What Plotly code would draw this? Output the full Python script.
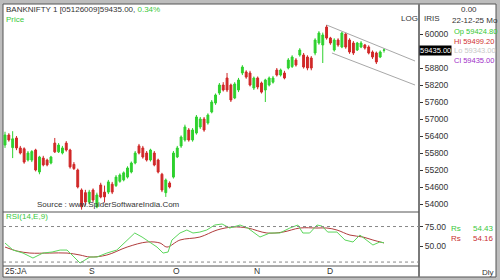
import plotly.graph_objects as go

# ---------------- data ----------------
candle_idx = list(range(100))
opens = [56082, 56435, 55990, 56330, 55977, 55950, 55553, 55550, 55906, 55130,
         55620, 55550, 55447, 56150, 55840, 55800, 56150, 55906, 55400, 55200,
         54494, 54400, 54070, 54494, 53900, 54671, 54420, 54420, 54700, 54650,
         54800, 54850, 54950, 55129, 55447, 56050, 55977, 55800, 55553, 55800,
         55553, 55050, 54400, 54741, 54950, 55660, 56047, 56259, 56612, 56259,
         56506, 56718, 57000, 56860, 57247, 57565, 57918, 58200, 58447, 58200,
         57741, 58024, 58624, 58660, 58624, 58094, 58447, 58271, 58024, 58200,
         58300, 58729, 58553, 58624, 58800, 58850, 59082, 59259, 59259, 59188,
         59153, 59329, 59682, 59612, 60247, 59859, 59435, 59788, 59541, 60000,
         59788, 59682, 59435, 59541, 59612, 59541, 59365, 59329, 59188, 59424.8]
highs = [56550, 56500, 56570, 56400, 56050, 56000, 55870, 55900, 55950, 55700,
         55700, 55600, 55700, 56330, 56150, 56050, 56220, 55950, 55480, 55250,
         54550, 54500, 54500, 54550, 54400, 54750, 54650, 54850, 54780, 55020,
         55080, 55150, 55330, 55500, 55870, 56120, 56050, 55870, 55950, 55870,
         55600, 55100, 54900, 54800, 55870, 56050, 56420, 56800, 56680, 56680,
         57140, 57071, 57071, 57200, 57670, 57900, 58270, 58300, 58624, 58250,
         58300, 58450, 58900, 58720, 58700, 58500, 58500, 58320, 58420, 58500,
         58520, 58800, 58780, 58700, 59150, 59250, 59150, 59500, 59330, 59250,
         59220, 59850, 60100, 60050, 60318, 59900, 59850, 59850, 60080, 60050,
         59850, 59750, 59720, 59750, 59650, 59600, 59420, 59380, 59420, 59499.2]
lows = [55980, 56200, 55620, 55900, 55750, 55420, 55500, 55480, 55150, 55050,
        55330, 55330, 55400, 55800, 55800, 55750, 55850, 55250, 55200, 54550,
        53800, 53950, 54000, 54050, 53850, 54200, 54050, 54350, 54350, 54600,
        54750, 54800, 54900, 55080, 55400, 55750, 55600, 55500, 55500, 55330,
        55080, 54420, 54250, 54550, 54900, 55620, 55980, 56200, 56200, 56200,
        56450, 56650, 56550, 56800, 57200, 57500, 57850, 57970, 57950, 57600,
        57700, 57950, 58550, 58420, 58150, 58024, 58050, 57900, 57600, 58150,
        58250, 58500, 58500, 58400, 58750, 58800, 58850, 59200, 58780, 58720,
        58720, 59250, 59620, 58976, 59800, 59620, 59380, 59550, 59500, 59480,
        59300, 59260, 59400, 59500, 59450, 59280, 59120, 58940, 59150, 59343]
closes = [56435, 56259, 56300, 55977, 55800, 55480, 55800, 55850, 55200, 55660,
          55380, 55380, 55660, 55840, 56080, 55977, 55906, 55310, 55250, 54600,
          53900, 54070, 54420, 54141, 54318, 54247, 54250, 54780, 54420, 54950,
          55024, 55100, 55271, 55447, 55800, 55800, 55660, 55553, 55906, 55376,
          55129, 54494, 54847, 54600, 55800, 55977, 56365, 56718, 56259, 56612,
          57071, 57000, 56612, 57141, 57600, 57847, 58200, 58024, 58024, 57671,
          58236, 58377, 58835, 58480, 58200, 58447, 58130, 57950, 58377, 58447,
          58447, 58553, 58729, 58447, 59082, 59188, 58906, 59435, 58835, 58800,
          58800, 59788, 60035, 59965, 59859, 59682, 59788, 59612, 60035, 59541,
          59365, 59329, 59682, 59682, 59506, 59329, 59188, 59012, 59365, 59435]

# channel (trend lines) end points: index, value
chan_up_idx = [84, 107.1]
chan_up_val = [60318, 59047]
chan_lo_idx = [85.4, 107.1]
chan_lo_val = [59329, 58200]

# RSI(14) and its signal line
rsi_idx = [0, 2.1, 4.7, 7.3, 9.9, 12.3, 14.4, 16.2, 17.5, 19.6, 20.9, 22.2, 24, 26.6, 29.2,
           31.9, 33.9, 35.8, 37.9, 39.7, 41.3, 42.6, 43.6, 45.7, 47.5, 49.1, 50.9, 52.7,
           54.8, 56.7, 58.7, 61.4, 63.4, 66.6, 69.2, 71.8, 74.4, 76.5, 77.8, 79.6, 81.5,
           82.8, 84.3, 86.7, 88.8, 90.9, 92.7, 94.5, 96.1, 97.9, 99]
rsi_val = [54.1, 45.2, 41.4, 35.1, 41.4, 42.7, 45.2, 45.2, 38.9, 28.8, 32.6, 36.4, 36.4,
           41.4, 45.2, 57.9, 66.8, 61.7, 55.4, 49.0, 41.4, 42.7, 57.9, 66.8, 70.6, 66.8,
           68.0, 70.6, 76.9, 78.2, 73.1, 76.9, 73.1, 61.7, 66.8, 66.8, 73.1, 76.9, 66.8,
           66.8, 76.9, 75.6, 68.0, 68.0, 57.9, 55.4, 64.2, 57.9, 51.6, 55.4, 54.43]
sig_idx = [0, 3.1, 6.5, 11.7, 16.2, 19.6, 22.2, 26.6, 31.9, 37.1, 40.5, 42.3, 45.7, 50.9,
           55.4, 59.5, 63.4, 68.4, 72.6, 77, 81.5, 84.1, 86.7, 90.1, 93.5, 96.1, 99]
sig_val = [49.0, 44.0, 41.4, 41.4, 41.4, 38.9, 36.4, 38.9, 49.0, 55.4, 54.1, 49.0, 57.9,
           61.7, 70.6, 74.4, 73.1, 66.8, 68.0, 73.1, 73.1, 73.1, 70.6, 64.2, 61.7, 57.9, 54.16]
rsi_levels = [75, 30]

price_ticks = [54000, 54600, 55200, 55800, 56400, 57000, 57600, 58200, 58800, 60000]
rsi_ticks = [75, 50]
month_idx = [0, 22, 44, 65, 84]
month_lbl = ["25:JA", "S", "O", "N", "D"]
last_price = 59435.00

# ---------------- helpers (pixel -> paper) ----------------
W, H = 500, 280
def px(x):
    return x / W
def py(y):
    return 1 - y / H

GREEN = "#2ed12e"
RED = "#d02828"
FONT = "Liberation Sans"
TXT = "#333333"

fig = go.Figure()

fig.add_trace(go.Candlestick(
    x=candle_idx, open=opens, high=highs, low=lows, close=closes,
    increasing=dict(line=dict(color=GREEN, width=1), fillcolor=GREEN),
    decreasing=dict(line=dict(color=RED, width=1), fillcolor=RED),
    whiskerwidth=0, xaxis="x", yaxis="y", showlegend=False, hoverinfo="skip"))

for xi, yv in ((chan_up_idx, chan_up_val), (chan_lo_idx, chan_lo_val)):
    fig.add_trace(go.Scatter(x=xi, y=yv, mode="lines", line=dict(color="#a8a8a8", width=1),
                             xaxis="x", yaxis="y", showlegend=False, hoverinfo="skip"))

fig.add_trace(go.Scatter(x=sig_idx, y=sig_val, mode="lines", line=dict(color="#b03c3c", width=1, shape="spline"),
                         xaxis="x2", yaxis="y2", showlegend=False, hoverinfo="skip"))
fig.add_trace(go.Scatter(x=rsi_idx, y=rsi_val, mode="lines", line=dict(color="#5cd65c", width=1),
                         xaxis="x2", yaxis="y2", showlegend=False, hoverinfo="skip"))

xr = [-0.522, 108.14]
xdom = [px(3), px(419)]
fig.update_layout(
    width=W, height=H, margin=dict(l=0, r=0, t=0, b=0),
    paper_bgcolor="#bdbdbd", plot_bgcolor="rgba(0,0,0,0)",
    font=dict(family=FONT, size=8, color=TXT),
    xaxis=dict(domain=xdom, range=xr, showticklabels=False, showgrid=False, zeroline=False,
               rangeslider=dict(visible=False), anchor="y", fixedrange=True),
    xaxis2=dict(domain=xdom, range=xr, showticklabels=False, showgrid=False, zeroline=False,
                anchor="y2", matches="x"),
    yaxis=dict(domain=[py(212), py(4)], range=[53717.6, 61058.8], side="right",
               tickvals=price_ticks, ticktext=[str(v) for v in price_ticks],
               ticks="outside", ticklen=3, tickcolor="#333", tickfont=dict(size=8.5, color=TXT),
               showgrid=False, zeroline=False, anchor="x"),
    yaxis2=dict(domain=[py(266), py(212)], range=[25, 93.4], side="right",
                tickvals=rsi_ticks, ticktext=["%.2f" % v for v in rsi_ticks],
                ticks="outside", ticklen=3, tickcolor="#333", tickfont=dict(size=8.5, color=TXT),
                showgrid=False, zeroline=False, anchor="x2"),
)

shapes = [
    dict(type="rect", xref="paper", yref="paper", x0=px(3), x1=px(496), y0=py(277), y1=py(4),
         fillcolor="white", line=dict(color="#555", width=1), layer="below"),
    dict(type="line", xref="paper", yref="paper", x0=px(419), x1=px(419), y0=py(277), y1=py(4),
         line=dict(color="#7a7a7a", width=2)),
    dict(type="line", xref="paper", yref="paper", x0=px(3), x1=px(419), y0=py(212), y1=py(212),
         line=dict(color="#555", width=1)),
    dict(type="line", xref="paper", yref="paper", x0=px(3), x1=px(419), y0=py(266), y1=py(266),
         line=dict(color="#555", width=1)),
]
for lv in rsi_levels:
    shapes.append(dict(type="line", xref="paper", yref="y2", x0=px(3), x1=px(419), y0=lv, y1=lv,
                       line=dict(color="#888", width=1, dash="dot")))
fig.update_layout(shapes=shapes)

ann = []
def text(x, y, s, color=TXT, size=8, xanchor="left", **kw):
    ann.append(dict(x=px(x), y=py(y), xref="paper", yref="paper", text=s, showarrow=False,
                    xanchor=xanchor, yanchor="middle", font=dict(family=FONT, size=size, color=color), **kw))

text(4, 9, "BANKNIFTY 1 [05126009]59435.00, <span style='color:#3cc83c'>0.34%</span>")
text(4, 20, "Price", color="#3cc83c")
text(399, 19, "LOG", size=8)
text(422, 19, "IRIS", size=8)
text(459, 10, "0.00", size=8)
text(450, 21, "22-12-25 Mo", size=8)
text(452, 31, "Op 59424.80", color="#33c833", size=7.5)
text(452, 41, "Hi 59499.20", color="#d03030", size=7.5)
text(452, 50, "Lo 59343.00", color="#c8c8c8", size=7.5)
text(452, 60, "Cl 59435.00", color="#a030c8", size=7.5)
text(35, 204, "Source : www.SpiderSoftwareIndia.Com")
text(449, 228, "Rs", color="#3cc83c", size=8)
text(471, 228, "54.43", color="#3cc83c", size=8)
text(449, 238, "Rs", color="#c83030", size=8)
text(471, 238, "54.16", color="#c83030", size=8)
text(4, 216, "RSI(14,E,9)", color="#3cc83c")
text(480, 272, "Dly", size=8)

for mi, ml in zip(month_idx, month_lbl):
    ann.append(dict(x=mi, y=py(271), xref="x2", yref="paper", text=ml, showarrow=False,
                    xanchor="left", yanchor="middle", xshift=-2,
                    font=dict(family=FONT, size=8.5, color=TXT)))

ann.append(dict(x=px(419), y=last_price, xref="paper", yref="y", text="59435.00", showarrow=False,
                xanchor="left", yanchor="middle", bgcolor="black", borderpad=0,
                font=dict(family=FONT, size=7.5, color="white")))
fig.update_layout(annotations=ann)

fig.write_html("out.html")
